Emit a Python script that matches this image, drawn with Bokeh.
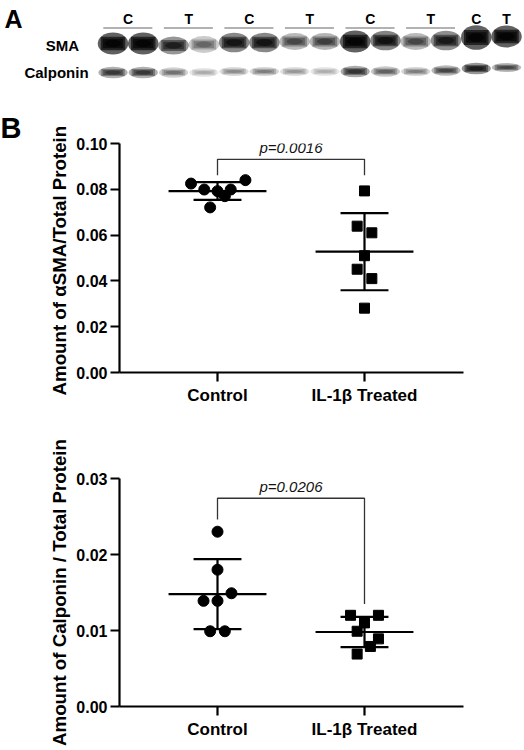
import numpy as np
from bokeh.plotting import figure
from bokeh.models import Range1d, FixedTicker, Label, Title
from bokeh.core.properties import value
from bokeh.embed import file_html
from bokeh.resources import INLINE

FONT = "Liberation Sans"

# ---------------- data ----------------
groups = ["Control", "IL-1\u03b2 Treated"]

sma_control = [0.0825, 0.0799, 0.0792, 0.0799, 0.0770, 0.0840, 0.0721]
sma_control_jitter = [-0.18, -0.09, 0.0, 0.09, 0.05, 0.19, -0.05]
sma_treated = [0.0793, 0.0639, 0.0610, 0.0510, 0.0451, 0.0410, 0.0281]
sma_treated_jitter = [0.0, -0.05, 0.05, 0.0, -0.05, 0.05, 0.0]
sma_ticks = [0.0, 0.02, 0.04, 0.06, 0.08, 0.10]
sma_p_text = "p=0.0016"
sma_bracket = [0.0931, 0.0861, 0.0861]   # top, left end, right end

cal_control = [0.0230, 0.0180, 0.0149, 0.0139, 0.0139, 0.0099, 0.0099]
cal_control_jitter = [0.0, 0.0, 0.095, -0.095, 0.0, -0.05, 0.05]
cal_treated = [0.0120, 0.0120, 0.0110, 0.0099, 0.0089, 0.0079, 0.0069]
cal_treated_jitter = [-0.095, 0.095, 0.0, -0.05, 0.095, 0.04, -0.05]
cal_ticks = [0.0, 0.01, 0.02, 0.03]
cal_p_text = "p=0.0206"
cal_bracket = [0.0274, 0.0246, 0.0135]

# western blot: 14 lanes, relative band darkness
lanes = list(range(1, 15))
lane_groups = ["C", "C", "T", "T", "C", "C", "T", "T", "C", "C", "T", "T", "C", "T"]
sma_band = [1.0, 1.0, 0.88, 0.6, 0.92, 0.92, 0.72, 0.75, 1.0, 0.93, 0.72, 0.9, 1.0, 0.98]
calponin_band = [0.78, 0.78, 0.55, 0.33, 0.45, 0.5, 0.4, 0.32, 0.8, 0.62, 0.5, 0.72, 0.88, 0.72]
# band geometry (vertical placement in the blot picture)
sma_row = [43, 43, 45, 44, 42, 42, 41, 41, 41, 40, 41, 40, 37, 36]
sma_thick = [17, 17, 14, 13, 15, 15, 13, 13, 17, 15, 13, 15, 19, 17]
cal_row = [72, 72, 72, 72, 71, 71, 71, 71, 71, 71, 71, 70, 68, 67]
cal_thick = [9, 9, 8, 7, 7, 7, 7, 7, 9, 8, 7, 8, 9, 7]

W = 524

# ---------------- blot panel ----------------
blot = figure(width=W, height=100, x_range=Range1d(-2.7166, 14.594), y_range=Range1d(100, 0),
              output_backend="svg", toolbar_location=None, x_axis_type=None, y_axis_type=None,
              min_border=0, outline_line_color=None)
blot.xgrid.visible = False
blot.ygrid.visible = False
blot.background_fill_color = "white"


def draw_bands(xs, ys, thick, inten, width):
    a = [float(min(0.62, 1 - (1 - min(i, 0.985)) ** 0.25)) for i in inten]
    blot.ellipse(x=xs, y=ys, width=width * 1.12, height=[t * 1.3 for t in thick],
                 fill_color="black", fill_alpha=a, line_color=None)
    blot.rect(x=xs, y=ys, width=width * 0.9, height=[t * 0.78 for t in thick],
              fill_color="black", fill_alpha=a, line_color=None)
    blot.rect(x=xs, y=ys, width=width * 0.75, height=[t * 0.55 for t in thick],
              fill_color="black", fill_alpha=a, line_color=None)
    blot.ellipse(x=xs, y=ys, width=width * 0.6, height=[t * 0.45 for t in thick],
                 fill_color="black", fill_alpha=a, line_color=None)


draw_bands(lanes, sma_row, sma_thick, sma_band, 0.9)
draw_bands(lanes, cal_row, cal_thick, calponin_band, 0.86)

# group labels
pair_x, pair_lbl, lx0, lx1 = [], [], [], []
for k in range(0, 12, 2):
    pair_x.append(lanes[k] + 0.5)
    pair_lbl.append(lane_groups[k])
    lx0.append(lanes[k] - 0.32)
    lx1.append(lanes[k + 1] + 0.3)
for k in range(12, 14):
    pair_x.append(lanes[k])
    pair_lbl.append(lane_groups[k])
blot.segment(x0=lx0, x1=lx1, y0=27.5, y1=27.5, line_color="#666666", line_width=1.2)
blot.text(x=pair_x, y=[18.5] * len(pair_x), text=pair_lbl, text_font=value(FONT),
          text_font_style="bold", text_font_size="14px", text_align="center",
          text_baseline="middle", text_color="black")
blot.text(x=[-0.668, -0.867], y=[45, 71.5], text=["SMA", "Calponin"], text_font=value(FONT),
          text_font_style="bold", text_font_size="15px", text_align="center",
          text_baseline="middle", text_color="black")
blot.text(x=[-2.29], y=[18.5], text=["A"], text_font=value(FONT), text_font_style="bold",
          text_font_size="25px", text_align="center", text_baseline="middle", text_color="black")


# ---------------- dot plots ----------------
def dot_plot(ctrl, ctrl_j, trt, trt_j, ticks, fmt, ylabel, ptext, bracket, height, top, bottom):
    ymax = ticks[-1]
    p = figure(width=W, height=height, x_range=Range1d(0.3333, 2.6735), y_range=Range1d(0, ymax),
               output_backend="svg", toolbar_location=None,
               min_border_left=119, min_border_right=61, min_border_top=top, min_border_bottom=bottom)
    p.xgrid.visible = False
    p.ygrid.visible = False
    p.outline_line_color = None

    for ax in (p.xaxis, p.yaxis):
        ax.axis_line_width = 2.2
        ax.axis_line_color = "black"
        ax.major_tick_line_width = 2.2
        ax.major_tick_line_color = "black"
        ax.major_tick_out = 9
        ax.major_tick_in = 0
        ax.minor_tick_line_color = None
        ax.major_label_text_font = FONT
        ax.major_label_text_font_style = "bold"
        ax.major_label_text_color = "black"
        ax.axis_label_text_font = FONT
        ax.axis_label_text_font_style = "bold"
        ax.axis_label_text_color = "black"

    p.xaxis.ticker = FixedTicker(ticks=[1, 2])
    p.xaxis.major_label_overrides = {1: groups[0], 2: groups[1]}
    p.xaxis.major_label_text_font_size = "17px"
    p.xaxis.major_label_standoff = 4

    p.yaxis.ticker = FixedTicker(ticks=ticks)
    p.yaxis.major_label_overrides = {t: fmt.format(t) for t in ticks}
    p.yaxis.major_label_text_font_size = "16px"
    p.yaxis.major_label_standoff = 3
    p.yaxis.axis_label = ylabel
    p.yaxis.axis_label_text_font_size = "18.7px"
    p.yaxis.axis_label_standoff = 3

    for gx, vals, jit, marker, size in [(1, ctrl, ctrl_j, "circle", 11), (2, trt, trt_j, "square", 10)]:
        m = float(np.mean(vals))
        sd = float(np.std(vals, ddof=1))
        p.segment(x0=[gx - 0.333], x1=[gx + 0.333], y0=[m], y1=[m], line_color="black", line_width=2.2)
        p.segment(x0=[gx - 0.163, gx - 0.163], x1=[gx + 0.163, gx + 0.163], y0=[m - sd, m + sd],
                  y1=[m - sd, m + sd], line_color="black", line_width=2.2)
        p.segment(x0=[gx], x1=[gx], y0=[m - sd], y1=[m + sd], line_color="black", line_width=2.2)
        p.scatter(x=[gx + j for j in jit], y=vals, marker=marker, size=size,
                  fill_color="black", line_color="black")

    top_y, left_y, right_y = bracket
    p.line(x=[1, 1, 2, 2], y=[left_y, top_y, top_y, right_y], line_color="#333333", line_width=1.3)
    p.add_layout(Label(x=1.5, y=top_y, y_offset=3, text=ptext, text_font=FONT,
                       text_font_style="italic", text_font_size="15px", text_align="center",
                       text_baseline="bottom", text_color="#111111"))
    return p


p1 = dot_plot(sma_control, sma_control_jitter, sma_treated, sma_treated_jitter, sma_ticks, "{:.2f}",
              "Amount of \u03b1SMA/Total  Protein", sma_p_text, sma_bracket, 320, 43, 48)
p1.add_layout(Title(text="B", align="left", offset=-119, standoff=0, text_font=FONT,
                    text_font_style="bold", text_font_size="29px", text_color="black"), "above")

p2 = dot_plot(cal_control, cal_control_jitter, cal_treated, cal_treated_jitter, cal_ticks, "{:.2f}",
              "Amount of Calponin / Total Protein", cal_p_text, cal_bracket, 330, 58, 44)

open("out.html", "w").write(file_html([blot, p1, p2], INLINE))
